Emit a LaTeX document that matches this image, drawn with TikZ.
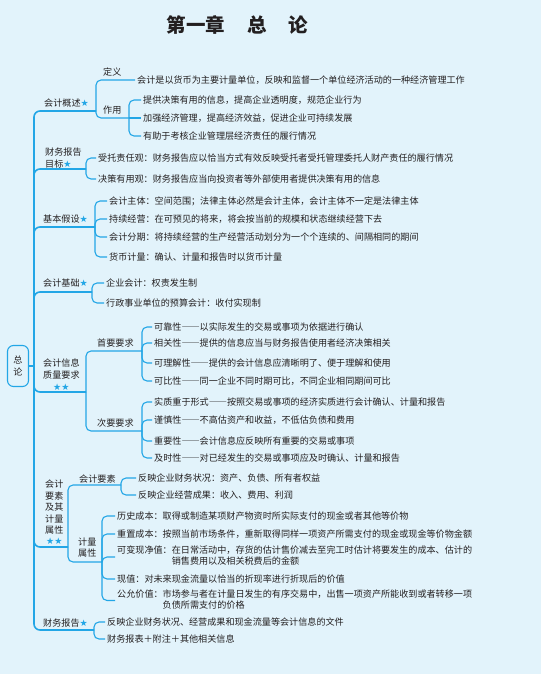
\documentclass[tikz,border=0pt]{standalone}
\usepackage{fontspec}
\setmainfont{Noto Sans CJK SC}
\newfontfamily\symfont{DejaVu Sans}
\definecolor{bgblue}{HTML}{E2F3FB}
\definecolor{lnblue}{HTML}{22A6E6}
\definecolor{ink}{HTML}{231F20}
\newcommand{\xing}{{\symfont\color{lnblue}★}}
\newcommand{\pozhe}{{\addfontfeatures{RawFeature=+fwid}——}}
\tikzset{
  br/.style={draw=lnblue, line width=1.1pt, rounded corners=5pt},
  trunk/.style={draw=lnblue, line width=1.6pt, rounded corners=6pt},
  leaf/.style={anchor=west, inner sep=2pt, text=ink, font=\fontsize{9.1}{10.5}\selectfont},
  lab/.style={anchor=west, inner sep=0pt, text=ink, align=left, font=\fontsize{9.1}{12}\selectfont},
}
\begin{document}
\begin{tikzpicture}[x=1pt, y=-1pt]
    \fill[bgblue] (0,0) rectangle (541,674);
    \useasboundingbox (0,0) rectangle (541,674);
    \node[text=ink, font=\fontsize{19.5}{20}\selectfont\bfseries] (title) at (237.5,25) {第一章\hspace{22pt}总\hspace{22pt}论};

    % root
    \node[draw=lnblue, line width=1.1pt, rounded corners=6pt, minimum width=21pt, minimum height=41pt,
          inner sep=0pt, align=center, text=ink, font=\fontsize{9.1}{12}\selectfont] (root) at (18,366) {总\\论};
    \coordinate (hub) at (34,366);
    \draw[trunk] (root.east) -- (hub);

    % 会计概述
    \node[lab] (gk) at (44,103) {会计概述\xing};
    \coordinate (gkj) at (96,111);
    \draw[trunk] (hub) |- (gkj);
    \node[lab] (dylab) at (103,72) {定义};
    \node[leaf] (dy) at (135,80) {会计是以货币为主要计量单位，反映和监督一个单位经济活动的一种经济管理工作};
    \draw[br] (gkj) |- (dy.west);
    \node[lab] (zylab) at (103,110) {作用};
    \coordinate (zyj) at (129,118);
    \draw[br] (gkj) |- (zyj);
    \node[leaf] (zy1) at (141,100) {提供决策有用的信息，提高企业透明度，规范企业行为};
    \node[leaf] (zy2) at (141,118) {加强经济管理，提高经济效益，促进企业可持续发展};
    \node[leaf] (zy3) at (141,136) {有助于考核企业管理层经济责任的履行情况};
    \draw[br] (zyj) |- (zy1.west); \draw[br] (zyj) -- (zy2.west); \draw[br] (zyj) |- (zy3.west);

    % 财务报告目标
    \node[lab] (mb) at (45,158) {财务报告\\目标\xing};
    \coordinate (mbj) at (86,169);
    \draw[trunk] (hub) |- (mbj);
    \node[leaf] (mb1) at (96,158) {受托责任观：财务报告应以恰当方式有效反映受托者受托管理委托人财产责任的履行情况};
    \node[leaf] (mb2) at (96,179) {决策有用观：财务报告应当向投资者等外部使用者提供决策有用的信息};
    \foreach \n in {mb1,mb2} \draw[br] (mbj) |- (\n.west);

    % 基本假设
    \node[lab] (jb) at (43,219) {基本假设\xing};
    \coordinate (jbj) at (95,227);
    \draw[trunk] (hub) |- (jbj);
    \node[leaf] (jb1) at (107,201) {会计主体：空间范围；法律主体必然是会计主体，会计主体不一定是法律主体};
    \node[leaf] (jb2) at (107,219) {持续经营：在可预见的将来，将会按当前的规模和状态继续经营下去};
    \node[leaf] (jb3) at (107,237) {会计分期：将持续经营的生产经营活动划分为一个个连续的、间隔相同的期间};
    \node[leaf] (jb4) at (107,257) {货币计量：确认、计量和报告时以货币计量};
    \foreach \n in {jb1,jb2,jb3,jb4} \draw[br] (jbj) |- (\n.west);

    % 会计基础
    \node[lab] (jc) at (43,283) {会计基础\xing};
    \coordinate (jcj) at (92,292);
    \draw[trunk] (hub) |- (jcj);
    \node[leaf] (jc1) at (104,283) {企业会计：权责发生制};
    \node[leaf] (jc2) at (104,303) {行政事业单位的预算会计：收付实现制};
    \foreach \n in {jc1,jc2} \draw[br] (jcj) |- (\n.west);

    % 会计信息质量要求
    \node[lab, align=center] (zl) at (43,375) {会计信息\\质量要求\\\xing\xing};
    \coordinate (zlj) at (86,392);
    \draw[trunk] (hub) |- (zlj);
    \node[lab] (sy) at (97,343) {首要要求};
    \coordinate (syj) at (142,351);
    \node[lab] (cy) at (97,423) {次要要求};
    \coordinate (cyj) at (142,431);
    \draw[br] (zlj) |- (syj); \draw[br] (zlj) |- (cyj);
    \node[leaf] (sy1) at (152,327) {可靠性\pozhe 以实际发生的交易或事项为依据进行确认};
    \node[leaf] (sy2) at (152,343) {相关性\pozhe 提供的信息应当与财务报告使用者经济决策相关};
    \node[leaf] (sy3) at (152,363) {可理解性\pozhe 提供的会计信息应清晰明了、便于理解和使用};
    \node[leaf] (sy4) at (152,381) {可比性\pozhe 同一企业不同时期可比，不同企业相同期间可比};
    \foreach \n in {sy1,sy2,sy3,sy4} \draw[br] (syj) |- (\n.west);
    \node[leaf] (cy1) at (152,402) {实质重于形式\pozhe 按照交易或事项的经济实质进行会计确认、计量和报告};
    \node[leaf] (cy2) at (152,420) {谨慎性\pozhe 不高估资产和收益，不低估负债和费用};
    \node[leaf] (cy3) at (152,441) {重要性\pozhe 会计信息应反映所有重要的交易或事项};
    \node[leaf] (cy4) at (152,458) {及时性\pozhe 对已经发生的交易或事项应及时确认、计量和报告};
    \foreach \n in {cy1,cy2,cy3,cy4} \draw[br] (cyj) |- (\n.west);

    % 会计要素及其计量属性
    \node[lab, align=center, font=\fontsize{9.1}{11.4}\selectfont] (ys) at (45,512.5) {会计\\要素\\及其\\计量\\属性\\\xing\xing};
    \coordinate (ysj) at (68,547);
    \draw[trunk] (hub) |- (ysj);
    \node[lab] (yslab) at (79,479) {会计要素};
    \coordinate (ysaj) at (121,485);
    \node[lab, font=\fontsize{9.1}{11}\selectfont] (jl) at (78,547.5) {计量\\属性};
    \coordinate (jlj) at (102,562);
    \draw[br] (ysj) |- (ysaj); \draw[br] (ysj) |- (jlj);
    \node[leaf] (ya1) at (136,478) {反映企业财务状况：资产、负债、所有者权益};
    \node[leaf] (ya2) at (136,495) {反映企业经营成果：收入、费用、利润};
    \foreach \n in {ya1,ya2} \draw[br] (ysaj) |- (\n.west);
    \node[leaf] (jl1) at (115,516) {历史成本：取得或制造某项财产物资时所实际支付的现金或者其他等价物};
    \node[leaf] (jl2) at (115,534) {重置成本：按照当前市场条件，重新取得同样一项资产所需支付的现金或现金等价物金额};
    \node[leaf] (jl3) at (115,557) {\begin{tabular}{@{}l@{}l@{}}可变现净值：&在日常活动中，存货的估计售价减去至完工时估计将要发生的成本、估计的\\&销售费用以及相关税费后的金额\end{tabular}};
    \node[leaf] (jl4) at (115,579) {现值：对未来现金流量以恰当的折现率进行折现后的价值};
    \node[leaf] (jl5) at (115,600.5) {\begin{tabular}{@{}l@{}l@{}}公允价值：&市场参与者在计量日发生的有序交易中，出售一项资产所能收到或者转移一项\\&负债所需支付的价格\end{tabular}};
    \foreach \n in {jl1,jl2,jl3,jl4,jl5} \draw[br] (jlj) |- (\n.west);

    % 财务报告
    \node[lab] (bg) at (43,623) {财务报告\xing};
    \coordinate (bgj) at (94,630);
    \draw[trunk] (hub) |- (bgj);
    \node[leaf] (bg1) at (105,622) {反映企业财务状况、经营成果和现金流量等会计信息的文件};
    \node[leaf] (bg2) at (105,639) {财务报表＋附注＋其他相关信息};
    \foreach \n in {bg1,bg2} \draw[br] (bgj) |- (\n.west);
\end{tikzpicture}
\end{document}
